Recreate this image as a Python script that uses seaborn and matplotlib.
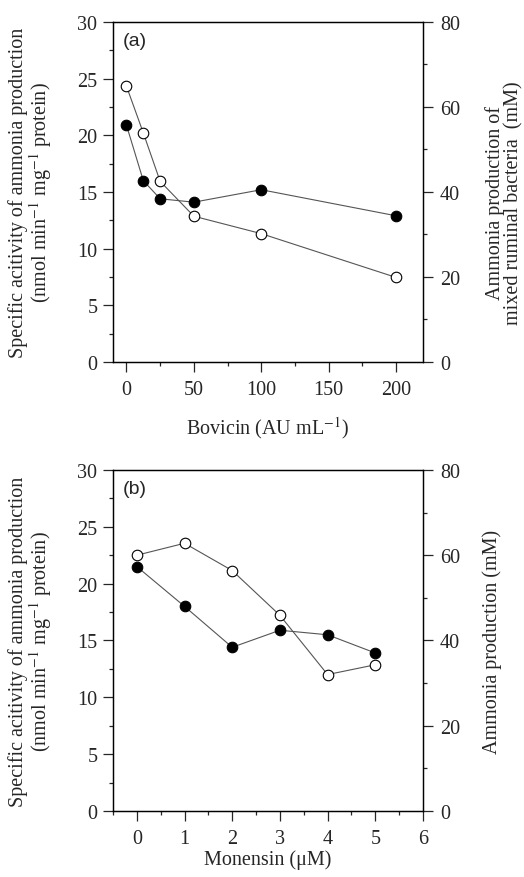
import numpy as np
import pandas as pd
import matplotlib
matplotlib.use('Agg')
import matplotlib.pyplot as plt
import seaborn as sns
from matplotlib.ticker import MultipleLocator

# Panel (a): bovicin
bovicin = [0, 12.5, 25, 50, 100, 200]
activity_a = [20.9, 16.0, 14.4, 14.1, 15.2, 12.9]      # filled, left axis
ammonia_a = [64.9, 53.9, 42.5, 34.3, 30.2, 19.9]       # open, right axis

# Panel (b): monensin
monensin = [0, 1, 2, 3, 4, 5]
activity_b = [21.5, 18.0, 14.4, 15.9, 15.5, 13.9]
ammonia_b = [60.0, 62.8, 56.4, 45.9, 32.0, 34.3]

sns.set_theme(style='ticks')
plt.rcParams['font.family'] = ['Liberation Serif', 'DejaVu Serif']
plt.rcParams['mathtext.fontset'] = 'stix'
plt.rcParams['axes.linewidth'] = 0.9
for k in ['xtick', 'ytick']:
    plt.rcParams[k + '.major.width'] = 0.9
    plt.rcParams[k + '.minor.width'] = 0.9
    plt.rcParams[k + '.major.size'] = 7.2
    plt.rcParams[k + '.minor.size'] = 3.2
    plt.rcParams[k + '.direction'] = 'out'

fig = plt.figure(figsize=(5.24, 8.78), dpi=100)
ax_a = fig.add_axes([0.2156, 0.5866, 0.5916, 0.3872])
ax_b = fig.add_axes([0.2156, 0.0752, 0.5916, 0.3884])

TICK_FS = 14.5
LAB_FS = 14.5
line_kw = dict(color='#555555', linewidth=0.8)
filled_kw = dict(marker='o', markersize=7.6, markerfacecolor='black',
                 markeredgecolor='black', markeredgewidth=0.8)
open_kw = dict(marker='o', markersize=7.6, markerfacecolor='white',
               markeredgecolor='black', markeredgewidth=0.8)

ylabel_left = ('Specific acitivity of ammonia production\n'
               '(nmol min$^{-1}$ mg$^{-1}$ protein)')


def panel(ax, x, act, amm, xlim, xmaj, xmin, xlabel, xpad, rlabel, rx, ry, tag):
    ax2 = ax.twinx()
    df = pd.DataFrame({'x': x, 'act': act, 'amm': amm})
    sns.lineplot(data=df, x='x', y='act', ax=ax, **line_kw, **filled_kw, zorder=3)
    sns.lineplot(data=df, x='x', y='amm', ax=ax2, **line_kw, **open_kw, zorder=3)

    ax.set_xlim(*xlim)
    ax.set_ylim(0, 30)
    ax2.set_ylim(0, 80)
    ax.xaxis.set_major_locator(MultipleLocator(xmaj))
    ax.xaxis.set_minor_locator(MultipleLocator(xmin))
    ax.yaxis.set_major_locator(MultipleLocator(5))
    ax.yaxis.set_minor_locator(MultipleLocator(2.5))
    ax2.yaxis.set_major_locator(MultipleLocator(20))
    ax2.yaxis.set_minor_locator(MultipleLocator(10))
    ax.tick_params(axis='x', which='both', labelsize=TICK_FS, pad=5.5)
    ax.tick_params(axis='y', which='both', labelsize=TICK_FS, pad=4)
    ax2.tick_params(which='both', labelsize=TICK_FS, pad=5)

    for a in (ax, ax2):
        for s in a.spines.values():
            s.set_color('black')
            s.set_linewidth(0.9)

    ax.set_xlabel(xlabel, fontsize=LAB_FS, labelpad=xpad)
    ax.set_ylabel(ylabel_left, fontsize=LAB_FS, linespacing=0.95)
    ax.yaxis.set_label_coords(-0.19, 0.5)
    ax2.set_ylabel(rlabel, fontsize=LAB_FS, linespacing=0.95)
    ax2.yaxis.set_label_coords(rx, ry)
    ax.text(0.03, 0.97, tag, transform=ax.transAxes, ha='left', va='top',
            fontsize=14, family=['Liberation Sans', 'DejaVu Sans'])
    return ax2


panel(ax_a, bovicin, activity_a, ammonia_a, (-10, 220), 50, 25,
      'Bovicin (AU mL$^{-1}$)', 11,
      'Ammonia production of\nmixed ruminal bacteria  (mM)', 1.2, 0.47, '(a)')
panel(ax_b, monensin, activity_b, ammonia_b, (-0.5, 6), 1, 0.5,
      'Monensin (\u03bcM)', 1, 'Ammonia production (mM)', 1.19, 0.5, '(b)')

fig.savefig('out.png', dpi=100)
